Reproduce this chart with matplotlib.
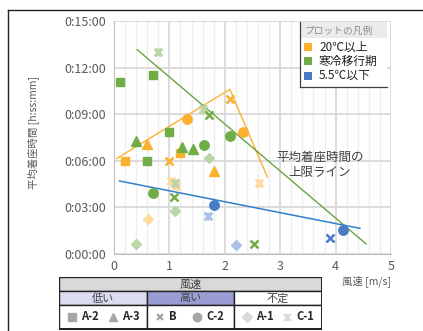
import matplotlib

matplotlib.use("Agg")
import matplotlib.pyplot as plt
from matplotlib.path import Path
from matplotlib.patches import Rectangle
from matplotlib.lines import Line2D

plt.rcParams["font.family"] = ["Noto Sans CJK JP", "DejaVu Sans"]

# --- data: wind speed [m/s] vs. mean sitting time [minutes] ---
# group: 0 = 20℃以上, 1 = 寒冷移行期, 2 = 5.5℃以下
A2_X = [0.2, 1.2, 0.1, 0.7, 1.0, 0.6]
A2_Y = [6.0, 6.5, 11.1, 11.5, 7.85, 6.0]
A2_G = [0, 0, 1, 1, 1, 1]

A3_X = [0.6, 1.8, 0.4, 1.22, 1.42]
A3_Y = [7.1, 5.35, 7.25, 6.9, 6.75]
A3_G = [0, 0, 1, 1, 1]

B_X = [1.0, 2.1, 1.08, 1.72, 2.52, 3.9]
B_Y = [6.0, 10.0, 3.7, 8.95, 0.65, 1.0]
B_G = [0, 0, 1, 1, 1, 2]

C2_X = [1.32, 2.32, 0.7, 1.62, 2.1, 1.8, 4.13]
C2_Y = [8.7, 7.85, 3.9, 7.0, 7.6, 3.15, 1.55]
C2_G = [0, 0, 1, 1, 1, 2, 2]

A1_X = [0.62, 0.4, 1.1, 1.72, 2.2]
A1_Y = [2.25, 0.65, 2.8, 6.15, 0.55]
A1_G = [0, 1, 1, 1, 2]

C1_X = [1.02, 1.12, 2.62, 0.8, 1.6, 1.1, 1.7]
C1_Y = [4.7, 4.35, 4.55, 13.0, 9.35, 4.6, 2.45]
C1_G = [0, 0, 0, 1, 1, 1, 2]

# upper-limit lines
ORANGE_LINE_X = [0.05, 2.09, 2.77]
ORANGE_LINE_Y = [6.15, 10.6, 4.95]
GREEN_LINE_X = [0.42, 4.55]
GREEN_LINE_Y = [13.15, 0.65]
BLUE_LINE_X = [0.1, 4.44]
BLUE_LINE_Y = [4.7, 1.65]

Y_TICKS = [0, 3, 6, 9, 12, 15]
Y_TICK_LABELS = ["0:00:00", "0:03:00", "0:06:00", "0:09:00", "0:12:00", "0:15:00"]
GROUP_NAMES = ["20℃以上", "寒冷移行期", "5.5℃以下"]

FULL = ["#FBB12E", "#70AD47", "#4A7BC8"]
PALE = ["#FDDA9F", "#BAD6A6", "#ABC2E8"]
TXT = "#404040"

STAR = Path([(-1, -1), (1, 1), (-1, 1), (1, -1), (0, -1), (0, 1)],
            [Path.MOVETO, Path.LINETO, Path.MOVETO, Path.LINETO, Path.MOVETO, Path.LINETO])

fig = plt.figure(figsize=(4.23, 3.31), dpi=100)

# outer frame
fig.add_artist(Line2D([8 / 423, 8 / 423], [1 - 10 / 331, 0], color="#222222", lw=1))
fig.add_artist(Line2D([8 / 423, 1], [1 - 10 / 331, 1 - 10 / 331], color="#222222", lw=1))

ax = fig.add_axes([114 / 423, 1 - 254 / 331, 277 / 423, 233 / 331])
ax.set_xlim(0, 5)
ax.set_ylim(0, 15)
ax.set_xticks(range(6))
ax.set_xticks([i * 0.2 for i in range(26)], minor=True)
ax.set_yticks(Y_TICKS)
ax.set_yticklabels(Y_TICK_LABELS)
ax.grid(which="major", color="#D9D9D9", lw=1.3)
ax.grid(which="minor", axis="x", color="#EEEEEE", lw=1.0)
ax.tick_params(which="both", length=0, labelsize=9, colors="#595959", pad=6)
ax.tick_params(axis="x", pad=4)
for s in ["top", "right"]:
    ax.spines[s].set_visible(False)
for s in ["left", "bottom"]:
    ax.spines[s].set_color("#BFBFBF")
ax.set_axisbelow(True)

ax.set_ylabel("平均着座時間 [h:ss:mm]", fontsize=7.5, color="#595959")
ax.yaxis.set_label_coords(-0.27, 0.52)
ax.text(1.0, -0.09, "風速 [m/s]", transform=ax.transAxes, ha="right", va="top",
        fontsize=7.5, color="#595959")

# trend / upper-limit lines
ax.plot(ORANGE_LINE_X, ORANGE_LINE_Y, color="#FBB12E", lw=1, zorder=2)
ax.plot(GREEN_LINE_X, GREEN_LINE_Y, color="#6AA43F", lw=1, zorder=2)
ax.plot(BLUE_LINE_X, BLUE_LINE_Y, color="#2F80CC", lw=1.1, zorder=2)


def scatter(xs, ys, gs, marker, size, pale, z, filled=True, mew=1.8):
    for x, y, g in zip(xs, ys, gs):
        c = PALE[g] if pale else FULL[g]
        if filled:
            ax.plot(x, y, marker=marker, ms=size, color=c, mec=c, ls="none", zorder=z)
        else:
            ax.plot(x, y, marker=marker, ms=size, color=c, mew=mew, ls="none", zorder=z)


scatter(A1_X, A1_Y, A1_G, "D", 5.2, True, 3)
scatter(C1_X, C1_Y, C1_G, STAR, 5.5, True, 3, filled=False, mew=2.2)
scatter(A2_X, A2_Y, A2_G, "s", 6.3, False, 4)
scatter(A3_X, A3_Y, A3_G, "^", 6.5, False, 4)
scatter(B_X, B_Y, B_G, "x", 5.2, False, 4, filled=False, mew=1.8)
scatter(C2_X, C2_Y, C2_G, "o", 6.8, False, 4)

ax.text(3.72, 5.75, "平均着座時間の\n上限ライン", ha="center", va="center",
        fontsize=9, color=TXT, linespacing=1.2, zorder=5)

# legend box (manual, Excel-like)
lx0, lx1, ly0, ly1 = 300, 387, 22, 87
fig.add_artist(Rectangle((lx0 / 423, 1 - ly1 / 331), (lx1 - lx0) / 423, (ly1 - ly0) / 331,
                         facecolor="white", edgecolor="none", zorder=6))
fig.add_artist(Rectangle((lx0 / 423, 1 - 38 / 331), (lx1 - lx0) / 423, 16 / 331,
                         facecolor="#EBEBEB", edgecolor="none", zorder=6))
fig.add_artist(Line2D([lx0 / 423, lx0 / 423], [1 - ly0 / 331, 1 - ly1 / 331], color="#404040", lw=0.9, zorder=7))
fig.add_artist(Line2D([lx0 / 423, lx1 / 423], [1 - ly1 / 331, 1 - ly1 / 331], color="#404040", lw=0.9, zorder=7))
fig.text(305 / 423, 1 - 31 / 331, "プロットの凡例", fontsize=7, color="#8C8C8C", va="center", zorder=8)
for i, name in enumerate(GROUP_NAMES):
    yc = 47 + 14.3 * i
    fig.add_artist(Rectangle((304 / 423, 1 - (yc + 4) / 331), 8 / 423, 8 / 331,
                             facecolor=FULL[i], edgecolor="none", zorder=8))
    fig.text(319 / 423, 1 - yc / 331, name, fontsize=8.5, color="#222222", va="center", zorder=8)

# bottom key table
tab = fig.add_axes([59 / 423, 1 - 330 / 331, 263 / 423, 53 / 331])
tab.set_xlim(0, 263)
tab.set_ylim(53, 0)
tab.axis("off")
tab.add_patch(Rectangle((0, 0), 263, 14, facecolor="#D9D9D9", edgecolor="#222222", lw=1))
tab.add_patch(Rectangle((0, 14), 88, 14, facecolor="#DCDCF0", edgecolor="#222222", lw=1))
tab.add_patch(Rectangle((88, 14), 87, 14, facecolor="#9A9CD4", edgecolor="#222222", lw=1))
tab.add_patch(Rectangle((175, 14), 88, 14, facecolor="white", edgecolor="#222222", lw=1))
for x0, w in [(0, 88), (88, 87), (175, 88)]:
    tab.add_patch(Rectangle((x0, 28), w, 24, facecolor="white", edgecolor="#222222", lw=1))
tab.add_patch(Rectangle((0, 0), 263, 52, facecolor="none", edgecolor="#222222", lw=1.4))
tab.text(131.5, 7.5, "風速", ha="center", va="center", fontsize=8, color=TXT)
tab.text(44, 21.5, "低い", ha="center", va="center", fontsize=8, color=TXT)
tab.text(131.5, 21.5, "高い", ha="center", va="center", fontsize=8, color=TXT)
tab.text(219, 21.5, "不定", ha="center", va="center", fontsize=8, color=TXT)

KEY_LABELS = ["A-2", "A-3", "B", "C-2", "A-1", "C-1"]
KEY_MARKERS = ["s", "^", "x", "o", "D", STAR]
KEY_COLORS = ["#A6A6A6", "#A6A6A6", "#A6A6A6", "#A6A6A6", "#D9D9D9", "#D9D9D9"]
KEY_MX = [13, 54, 101, 138, 188, 228]
for lab, mk, col, mx in zip(KEY_LABELS, KEY_MARKERS, KEY_COLORS, KEY_MX):
    if mk in ("x", STAR):
        tab.plot(mx, 40, marker=mk, ms=5, color=col, mew=1.6, ls="none")
    else:
        tab.plot(mx, 40, marker=mk, ms=6 if mk != "D" else 5, color=col, ls="none")
    tab.text(mx + 9, 40, lab, ha="left", va="center", fontsize=8, color="#262626", fontweight="bold")

fig.savefig("out.png", dpi=100)
